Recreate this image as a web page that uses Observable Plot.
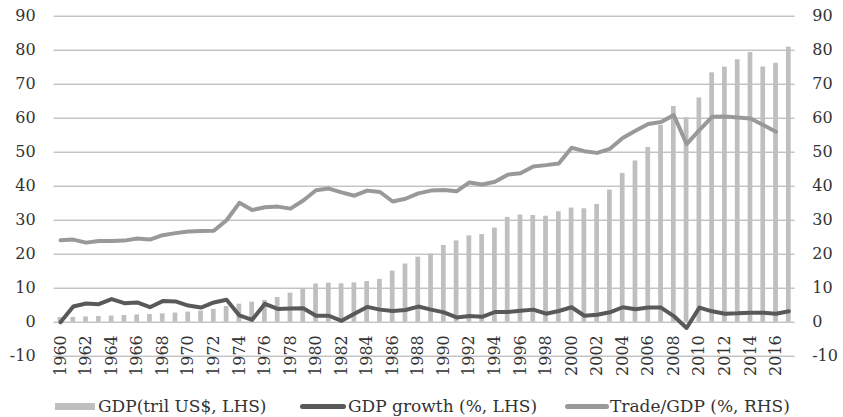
<!DOCTYPE html>
<html>
<head>
<meta charset="utf-8">
<script src="https://cdn.jsdelivr.net/npm/d3@7"></script>
<script src="https://cdn.jsdelivr.net/npm/@observablehq/plot@0.6"></script>
<style>
  body { margin: 0; background: #fff; }
  #legend { position: relative; width: 843px; height: 32px; font-family: "DejaVu Serif", serif; font-size: 17px; color: #333; }
  #legend .sw { position: absolute; }
  #legend .tx { position: absolute; top: 11px; line-height: 20px; white-space: nowrap; }
</style>
</head>
<body>
<div id="chart"></div>
<div id="legend">
  <div class="sw" style="left:55px;top:18px;width:40px;height:7px;background:#bfbfbf"></div>
  <div class="tx" style="left:98px">GDP(tril US$, LHS)</div>
  <div class="sw" style="left:300px;top:19px;width:46px;height:5px;border-radius:3px;background:#595959"></div>
  <div class="tx" style="left:348px">GDP growth (%, LHS)</div>
  <div class="sw" style="left:565px;top:19px;width:44px;height:5px;border-radius:3px;background:#999999"></div>
  <div class="tx" style="left:610px">Trade/GDP (%, RHS)</div>
</div>
<script>
const years = d3.range(1960, 2018);
const gdpTril = [1.37,1.42,1.53,1.65,1.80,1.96,2.13,2.26,2.44,2.69,2.96,3.27,3.77,4.59,5.30,5.90,6.42,7.26,8.54,9.93,
  11.23,11.47,11.30,11.56,11.97,12.60,15.02,17.12,19.14,20.04,22.57,23.92,25.38,25.77,27.69,30.83,31.52,31.38,31.17,32.47,
  33.57,33.36,34.63,38.87,43.77,47.41,51.40,57.88,63.45,60.15,65.96,73.35,75.04,77.19,79.33,75.05,76.16,80.90];
const gdpGrowth = [0,4.6,5.5,5.3,6.8,5.6,5.8,4.4,6.2,6.1,4.9,4.3,5.8,6.6,2.0,0.7,5.4,3.9,4.0,4.1,
  1.9,1.9,0.4,2.5,4.5,3.7,3.3,3.6,4.6,3.7,2.9,1.4,1.8,1.6,3.0,3.0,3.4,3.7,2.5,3.3,
  4.4,1.9,2.2,2.9,4.4,3.8,4.3,4.3,1.8,-1.7,4.3,3.2,2.5,2.6,2.8,2.8,2.5,3.2];
const tradeGdp = [24.1,24.3,23.4,23.9,23.9,24.0,24.6,24.3,25.6,26.2,26.7,26.8,26.9,30.0,35.1,33.0,33.8,34.0,33.4,35.8,
  38.8,39.3,38.2,37.2,38.7,38.3,35.5,36.3,37.9,38.7,38.9,38.5,41.1,40.5,41.3,43.4,43.8,45.8,46.2,46.7,
  51.3,50.3,49.8,51.0,54.2,56.3,58.3,58.9,60.9,52.4,56.5,60.4,60.5,60.2,59.9,58.0,56.0];
const yTicks = [-10,0,10,20,30,40,50,60,70,80,90];
const xLabelYears = years.filter(y => y % 2 === 0 && y <= 2016);

const rows = years.map((y, i) => ({year: y, gdp: gdpTril[i], growth: gdpGrowth[i], trade: i < tradeGdp.length ? tradeGdp[i] : null}));
const tradeRows = rows.filter(r => r.trade != null);

const chart = Plot.plot({
  width: 843,
  height: 385,
  marginLeft: 53.6,
  marginRight: 48.3,
  marginTop: 15.7,
  marginBottom: 29.3,
  style: {fontFamily: "DejaVu Serif, serif", fontSize: "16px", color: "#333", background: "#fff"},
  x: {type: "band", domain: years, paddingInner: 0.63, paddingOuter: 0.315, axis: null},
  y: {domain: [-10, 90], axis: null},
  marks: [
    Plot.gridY(yTicks, {stroke: "#a8a8a8", strokeOpacity: 1, strokeWidth: 1}),
    Plot.barY(rows, {x: "year", y: "gdp", fill: "#bfbfbf"}),
    Plot.lineY(rows, {x: "year", y: "growth", stroke: "#595959", strokeWidth: 4, strokeLinejoin: "round", strokeLinecap: "round"}),
    Plot.lineY(tradeRows, {x: "year", y: "trade", stroke: "#999999", strokeWidth: 4, strokeLinejoin: "round", strokeLinecap: "round"}),
    Plot.axisY(yTicks, {anchor: "left", tickSize: 0, tickPadding: 18.5, fontSize: 16, fill: "#333", tickFormat: d => String(d)}),
    Plot.axisY(yTicks, {anchor: "right", tickSize: 0, tickPadding: 17, fontSize: 16, fill: "#333", tickFormat: d => String(d)}),
    Plot.text(xLabelYears, {x: d => d, y: () => 0, dy: 13, rotate: -90, textAnchor: "end", fontSize: 16, fill: "#333", text: d => String(d)})
  ]
});
document.getElementById("chart").appendChild(chart);
</script>
</body>
</html>
